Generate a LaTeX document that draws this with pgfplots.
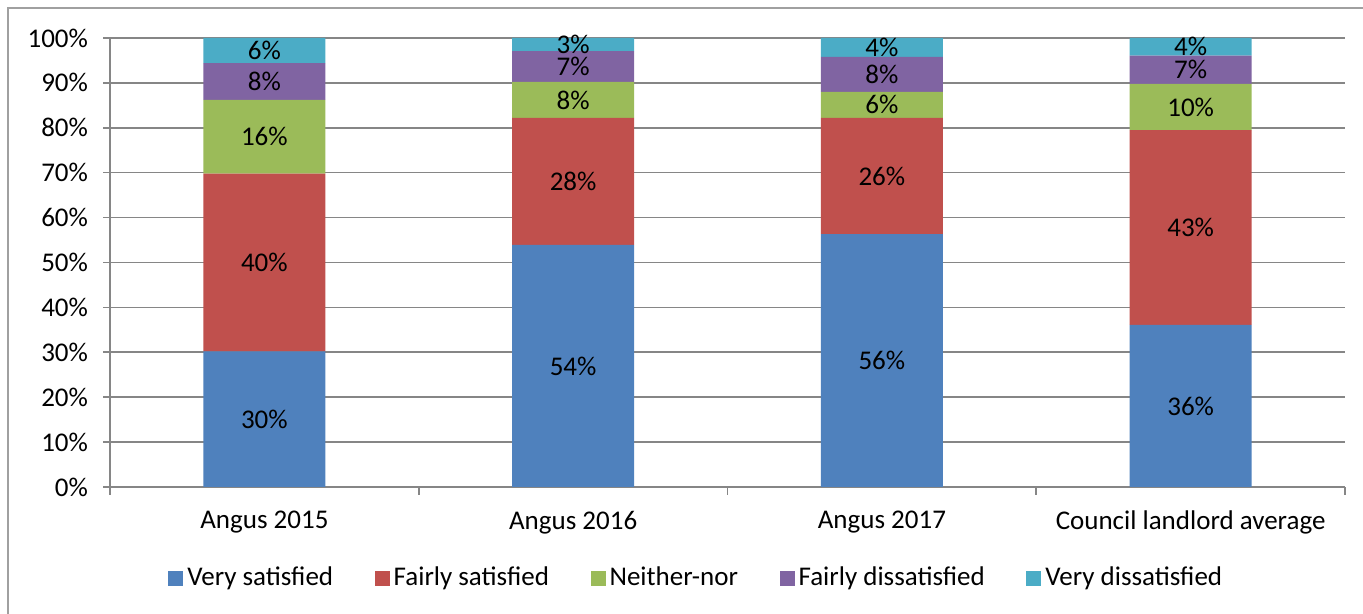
\documentclass[border=0pt]{standalone}
\usepackage{fontspec}
\setmainfont{Carlito}
\usepackage{pgfplots}
\pgfplotsset{compat=1.18}
\definecolor{vsat}{RGB}{79,129,189}
\definecolor{fsat}{RGB}{192,80,77}
\definecolor{neither}{RGB}{155,187,89}
\definecolor{fdis}{RGB}{128,100,162}
\definecolor{vdis}{RGB}{75,172,198}
\definecolor{gridgray}{RGB}{134,134,134}
\definecolor{framegray}{RGB}{160,160,160}

\begin{document}
\begin{tikzpicture}[font=\fontsize{13.5}{16}\selectfont]
\path[use as bounding box] (0,0) rectangle (681.5pt,307pt);
\draw[framegray, line width=0.7pt] (4pt,-2pt) -- (4pt,303pt) -- (684pt,303pt);

\begin{axis}[at={(55pt,63.5pt)}, anchor=south west, scale only axis,
  width=617.5pt, height=224.5pt,
  ybar stacked, bar width=61pt,
  xmin=-0.5, xmax=3.5, ymin=0, ymax=100,
  xtick={0,1,2,3},
  xticklabels={Angus 2015,Angus 2016,Angus 2017,Council landlord average},
  minor xtick={-0.5,0.5,1.5,2.5,3.5},
  major x tick style={draw=none},
  ytick={0,10,...,100},
  yticklabels={0\%,10\%,20\%,30\%,40\%,50\%,60\%,70\%,80\%,90\%,100\%},
  tick align=outside, major tick length=3.5pt, minor tick length=4pt,
  tick style={gridgray, line width=0.8pt},
  axis x line*=bottom, axis y line*=left,
  axis line style={gridgray, line width=0.8pt, -},
  ymajorgrids, grid style={gridgray, line width=0.8pt},
  tick label style={font=\fontsize{13.5}{16}\selectfont},
  xticklabel style={yshift=-5pt},
  yticklabel style={xshift=-4pt},
  legend columns=5,
  legend style={draw=none, fill=none, at={(0.4755,-0.2027)}, anchor=center,
    /tikz/every even column/.append style={column sep=18.8pt},
    font=\fontsize{13.5}{16}\selectfont},
  legend image code/.code={\fill[#1] (0pt,-3.75pt) rectangle (7.5pt,3.75pt);},
  ]
  \addplot[fill=vsat, draw=none] coordinates {(0,30.2) (1,53.9) (2,56.3) (3,36.1)};
  \addlegendentry{Very satisfied}
  \addplot[fill=fsat, draw=none] coordinates {(0,39.6) (1,28.3) (2,25.9) (3,43.4)};
  \addlegendentry{Fairly satisfied}
  \addplot[fill=neither, draw=none] coordinates {(0,16.4) (1,8.0) (2,5.8) (3,10.3)};
  \addlegendentry{Neither-nor}
  \addplot[fill=fdis, draw=none] coordinates {(0,8.2) (1,6.9) (2,7.8) (3,6.3)};
  \addlegendentry{Fairly dissatisfied}
  \addplot[fill=vdis, draw=none] coordinates {(0,5.6) (1,2.9) (2,4.2) (3,3.9)};
  \addlegendentry{Very dissatisfied}
\end{axis}

% data labels, centred in each segment
\begin{axis}[at={(55pt,63.5pt)}, anchor=south west, scale only axis,
  width=617.5pt, height=224.5pt, hide axis,
  xmin=-0.5, xmax=3.5, ymin=0, ymax=100]
  \addplot[only marks, mark=none, nodes near coords, point meta=explicit symbolic,
    every node near coord/.style={anchor=center, black, inner sep=0pt,
      font=\fontsize{13.5}{16}\selectfont}]
  coordinates {
    (0,15.1)[30\%] (0,50.0)[40\%] (0,78.0)[16\%] (0,90.3)[8\%] (0,97.2)[6\%]
    (1,26.95)[54\%] (1,68.05)[28\%] (1,86.2)[8\%] (1,93.65)[7\%] (1,98.55)[3\%]
    (2,28.15)[56\%] (2,69.25)[26\%] (2,85.1)[6\%] (2,91.9)[8\%] (2,97.9)[4\%]
    (3,18.05)[36\%] (3,57.8)[43\%] (3,84.65)[10\%] (3,92.95)[7\%] (3,98.05)[4\%]
  };
\end{axis}
\end{tikzpicture}
\end{document}
